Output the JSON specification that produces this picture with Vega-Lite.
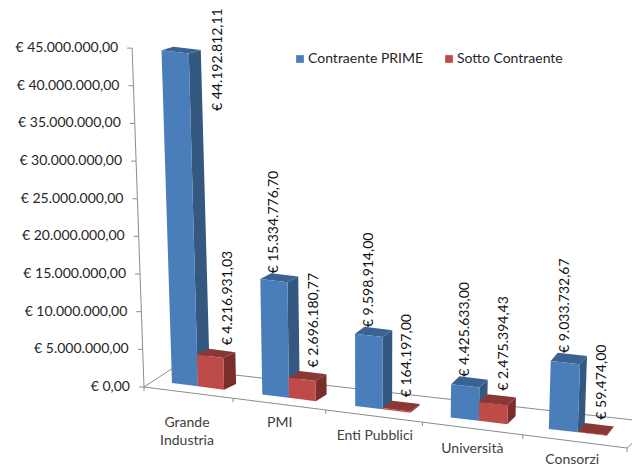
{
"$schema":"https://vega.github.io/schema/vega-lite/v6.json",
"width":632,"height":466,"padding":0,"autosize":{"type":"none"},"background":"white",
"config":{"view":{"stroke":null},"font":"Lato","locale":{"number":{"decimal":",","thousands":".","grouping":[3],"currency":["€ ",""]}}},
"datasets":{
"bars":[
{"cat":"Grande Industria","series":"Contraente PRIME","value":44192812.11},
{"cat":"Grande Industria","series":"Sotto Contraente","value":4216931.03},
{"cat":"PMI","series":"Contraente PRIME","value":15334776.70},
{"cat":"PMI","series":"Sotto Contraente","value":2696180.77},
{"cat":"Enti Pubblici","series":"Contraente PRIME","value":9598914.00},
{"cat":"Enti Pubblici","series":"Sotto Contraente","value":164197.00},
{"cat":"Università","series":"Contraente PRIME","value":4425633.00},
{"cat":"Università","series":"Sotto Contraente","value":2475394.43},
{"cat":"Consorzi","series":"Contraente PRIME","value":9033732.67},
{"cat":"Consorzi","series":"Sotto Contraente","value":59474.00}],
"ticks":[{"tick":0},{"tick":5000000},{"tick":10000000},{"tick":15000000},{"tick":20000000},{"tick":25000000},{"tick":30000000},{"tick":35000000},{"tick":40000000},{"tick":45000000}],
"bounds":[{"b":0},{"b":1},{"b":2},{"b":3},{"b":4},{"b":5}],
"floor":[{"i":0},{"i":1},{"i":2},{"i":3},{"i":4}]
},
"data":{"name":"bars"},
"transform":[
{"calculate":"indexof(['Grande Industria','PMI','Enti Pubblici','Università','Consorzi'],datum.cat)","as":"k"},
{"calculate":"datum.series==='Contraente PRIME'?0:1","as":"s"},
{"calculate":"datum.k+0.29*datum.s","as":"t0"},
{"calculate":"datum.t0+0.29","as":"t1"},
{"calculate":"172+89*datum.t0+1.3*datum.t0*datum.t0","as":"xa"},
{"calculate":"172+89*datum.t1+1.3*datum.t1*datum.t1","as":"xb"},
{"calculate":"530000-1527000*datum.t0","as":"ya"},
{"calculate":"530000-1527000*datum.t1","as":"yb"},
{"calculate":"datum.xa+(datum.xa-370)*0.0012*datum.value/1e6","as":"xat"},
{"calculate":"datum.xb+(datum.xb-370)*0.0012*datum.value/1e6","as":"xbt"},
{"calculate":"12-1.25*datum.k","as":"dx"},
{"calculate":"800000+93000*datum.k-0.0075*datum.value","as":"dy"},
{"calculate":"datum.cat+datum.series","as":"id"}
],
"encoding":{
"x":{"field":"px","type":"quantitative","axis":null,"scale":{"domain":[0,632],"nice":false,"zero":false}},
"y":{"field":"py","type":"quantitative","axis":null,"scale":{"domain":[-10490000,51390000],"nice":false,"zero":false}}
},
"layer":[
{"data":{"name":"floor"},
 "transform":[{"calculate":"[144,173,656,627,144][datum.i]","as":"px"},{"calculate":"(387-[387,368,422.6,448,387][datum.i])/7.53*1e6","as":"py"}],
 "mark":{"type":"line","stroke":"#8c8c8c","strokeWidth":1},
 "encoding":{"order":{"field":"i","type":"quantitative"}}},
{"data":{"name":"bounds"},
 "transform":[{"calculate":"144+87.1*datum.b+1.9*datum.b*datum.b","as":"px"},{"calculate":"(387-(387+0.1263*(datum.px-144)))/7.53*1e6","as":"py"},{"calculate":"datum.py-4/7.53*1e6","as":"py2"}],
 "mark":{"type":"rule","stroke":"#8c8c8c","strokeWidth":1},
 "encoding":{"y2":{"field":"py2"}}},
{"data":{"name":"ticks"},
 "transform":[{"calculate":"144-0.2636*datum.tick/1e6","as":"px"},{"calculate":"datum.tick","as":"py"}],
 "mark":{"type":"line","stroke":"#8c8c8c","strokeWidth":1},
 "encoding":{"order":{"field":"tick","type":"quantitative"}}},
{"data":{"name":"ticks"},
 "transform":[{"calculate":"144-0.2636*datum.tick/1e6","as":"px"},{"calculate":"datum.px-5","as":"px2"},{"calculate":"datum.tick","as":"py"}],
 "mark":{"type":"rule","stroke":"#8c8c8c","strokeWidth":1},
 "encoding":{"x2":{"field":"px2"}}},
{"data":{"name":"ticks"},
 "transform":[{"calculate":"130-0.2636*datum.tick/1e6","as":"px"},{"calculate":"datum.tick","as":"py"}],
 "mark":{"type":"text","align":"right","baseline":"middle","font":"Lato","fontSize":14,"fill":"#262626"},
 "encoding":{"text":{"field":"tick","type":"quantitative","format":"$,.2f"}}},
{"transform":[{"calculate":"[0,1,2,3]","as":"i"},{"flatten":["i"]},
 {"calculate":"[datum.xb,datum.xbt,datum.xbt+datum.dx,datum.xb+datum.dx][datum.i]","as":"px"},
 {"calculate":"[datum.yb,datum.yb+datum.value,datum.yb+datum.value+datum.dy,datum.yb+datum.dy][datum.i]","as":"py"}],
 "mark":{"type":"line","strokeWidth":0},
 "encoding":{"fill":{"field":"series","type":"nominal","legend":null,"scale":{"domain":["Contraente PRIME","Sotto Contraente"],"range":["#34587f","#7a2e2c"]}},"detail":{"field":"id"},"order":{"field":"i","type":"quantitative"}}},
{"transform":[{"calculate":"[0,1,2,3]","as":"i"},{"flatten":["i"]},
 {"calculate":"[datum.xat,datum.xbt,datum.xbt+datum.dx,datum.xat+datum.dx][datum.i]","as":"px"},
 {"calculate":"[datum.ya+datum.value,datum.yb+datum.value,datum.yb+datum.value+datum.dy,datum.ya+datum.value+datum.dy][datum.i]","as":"py"}],
 "mark":{"type":"line","strokeWidth":0},
 "encoding":{"fill":{"field":"series","type":"nominal","legend":null,"scale":{"domain":["Contraente PRIME","Sotto Contraente"],"range":["#3a6394","#8b3735"]}},"detail":{"field":"id"},"order":{"field":"i","type":"quantitative"}}},
{"transform":[{"calculate":"[0,1,2,3]","as":"i"},{"flatten":["i"]},
 {"calculate":"[datum.xa,datum.xb,datum.xbt,datum.xat][datum.i]","as":"px"},
 {"calculate":"[datum.ya,datum.yb,datum.yb+datum.value,datum.ya+datum.value][datum.i]","as":"py"}],
 "mark":{"type":"line","strokeWidth":0},
 "encoding":{"fill":{"field":"series","type":"nominal","scale":{"domain":["Contraente PRIME","Sotto Contraente"],"range":["#4a7ebb","#be4b48"]},
  "legend":{"title":null,"orient":"none","legendX":293,"legendY":52,"direction":"horizontal","symbolType":"square","symbolSize":60,"labelFont":"Lato","labelFontSize":14,"labelColor":"#262626","labelLimit":200,"labelOffset":1,"columnPadding":18,"symbolStrokeWidth":0}},
  "detail":{"field":"id"},"order":{"field":"i","type":"quantitative"}}},
{"transform":[
 {"calculate":"(datum.xat+datum.xbt)/2+(datum.s==1?datum.dx/2+(datum.k==0?12:6):0)+(datum.value>4e7?43:0)","as":"px"},
 {"calculate":"datum.yb+datum.value+datum.dy+(datum.s==1?900000:400000)-(datum.value>4e7?8500000:0)","as":"py"}],
 "mark":{"type":"text","angle":270,"align":"left","baseline":"middle","font":"Lato","fontSize":14,"fill":"#111111"},
 "encoding":{"text":{"field":"value","type":"quantitative","format":"$,.2f"}}},
{"transform":[{"filter":"datum.s==0"},
 {"calculate":"187+91.5*datum.k+1.2*datum.k*datum.k","as":"px"},
 {"calculate":"(387-(datum.k==0?423:datum.k==4?460:410+13*datum.k))/7.53*1e6","as":"py"},
 {"calculate":"replace(datum.cat,' I','\\nI')","as":"lab"}],
 "mark":{"type":"text","align":"center","baseline":"middle","font":"Lato","fontSize":14,"fill":"#404040","lineBreak":"\n","lineHeight":18},
 "encoding":{"text":{"field":"lab","type":"nominal"}}}
],
"resolve":{"scale":{"fill":"independent"}}
}
